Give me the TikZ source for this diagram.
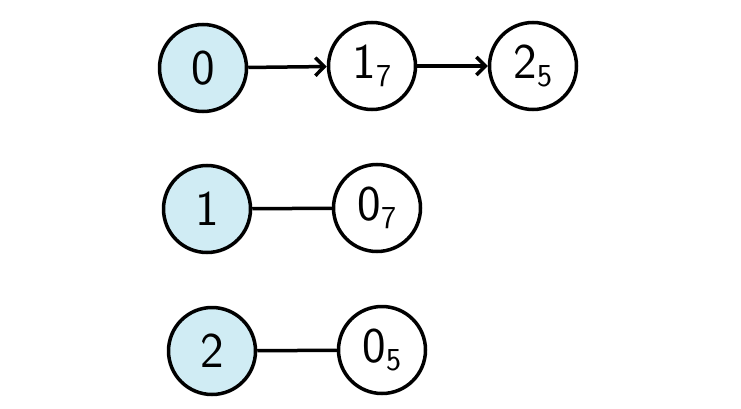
\documentclass[tikz,border=0pt]{standalone}
\usetikzlibrary{positioning, arrows.meta}
\definecolor{lightblue}{RGB}{208,236,244}
\newcommand{\sublbl}[2]{#1\raisebox{-8pt}{\fontsize{32}{36}\selectfont #2}}

\begin{document}
\begin{tikzpicture}[x=1pt,y=-1pt,every node/.style={draw,circle,line width=3.5pt,minimum size=87pt,inner sep=0pt,fill=white,font=\fontsize{50}{60}\selectfont\sffamily}]
            \useasboundingbox (0,0) rectangle (741,409);
            % primera fila
            \node[fill=lightblue](r0) at (203,68) {0};
            \node(r0a) at (372,66) {\sublbl{1}{7}};
            \node(r0b) at (533,66) {\sublbl{2}{5}};

            % segunda y tercera fila
            \node[fill=lightblue](r1) at (207,209) {1};
            \node(r1a) at (377,208) {\sublbl{0}{7}};

            \node[fill=lightblue](r2) at (212,351) {2};
            \node(r2a) at (382,350) {\sublbl{0}{5}};

            \draw[line width=3.5pt,-{Straight Barb[length=9pt,width=18pt]}] (r0) to (r0a);
            \draw[line width=3.5pt,-{Straight Barb[length=9pt,width=18pt]}] (r0a) to (r0b);

            \draw[line width=3.5pt] (r1) to (r1a);
            \draw[line width=3.5pt] (r2) to (r2a);
        \end{tikzpicture}
\end{document}
